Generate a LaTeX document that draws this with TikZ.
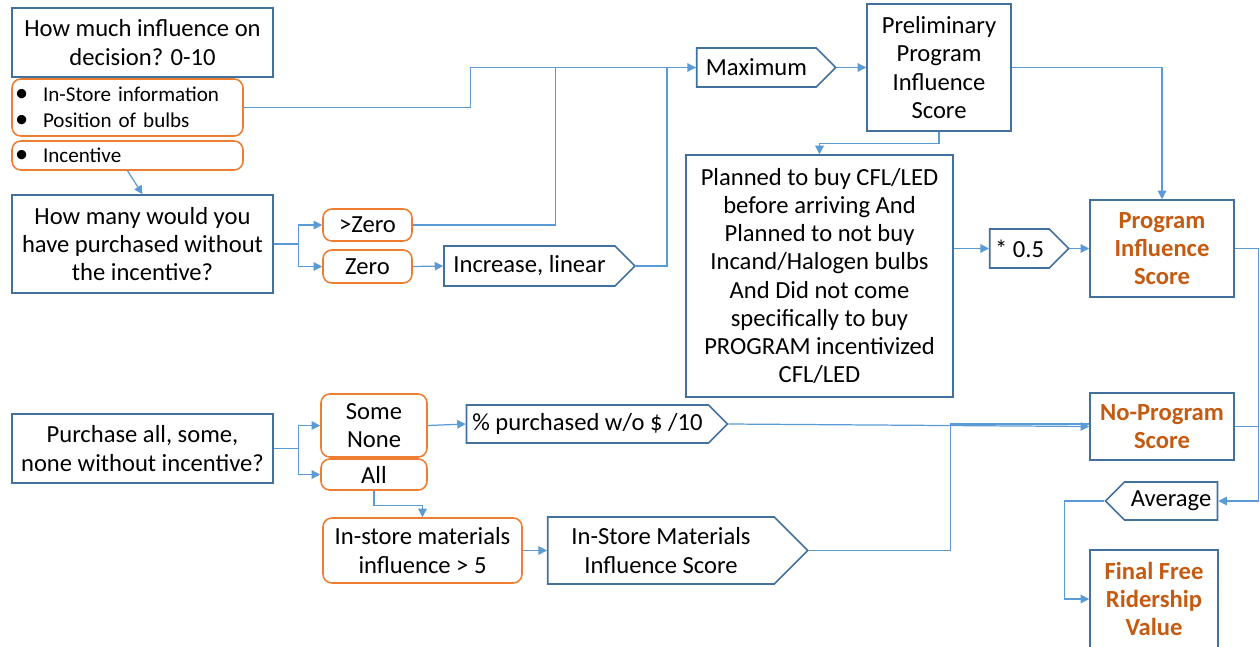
\documentclass[tikz,border=0pt]{standalone}
\usepackage{fontspec}
\setmainfont{Carlito}
\usepackage{xcolor}
\usetikzlibrary{shapes.symbols,arrows.meta}
\definecolor{boxblue}{HTML}{41719C}
\definecolor{lineblue}{HTML}{5B9BD5}
\definecolor{optorange}{HTML}{ED7D31}
\definecolor{scoreorange}{HTML}{C55A11}
\newcommand{\bulitem}{\makebox[0.56cm][l]{\fontsize{15}{14.5}\selectfont\textbullet}}
\tikzstyle{qbox} = [draw=boxblue, line width=0.9pt, fill=white,
    rectangle, align=center, inner sep=2pt, font=\fontsize{14}{16}\selectfont]
\tikzstyle{optbox} = [draw=optorange, line width=0.9pt, fill=white,
    rectangle, rounded corners=5pt, align=center, inner sep=2pt, font=\fontsize{14}{16}\selectfont]
\tikzstyle{listbox} = [optbox, align=left, text width=4.5cm, inner xsep=0.06cm,
    font=\fontsize{12}{14.5}\selectfont]
\tikzstyle{calcbox} = [draw=boxblue, line width=0.9pt, fill=white,
    signal, signal to=east, signal pointer angle=90, align=center, inner sep=2pt,
    font=\fontsize{14}{16}\selectfont]
\tikzstyle{scorebox} = [qbox, text=scoreorange, font=\fontsize{14}{16}\selectfont\bfseries]
\tikzstyle{flow} = [draw=lineblue, line width=0.7pt]
\tikzstyle{flowto} = [flow, -{Triangle[length=1.7mm,width=1.7mm]}]

\begin{document}
\begin{tikzpicture}[x=0.02cm, y=-0.02cm]
\useasboundingbox (0,0) rectangle (1260,646);

\node[qbox, minimum width=5.22cm, minimum height=1.38cm] (infl) at (142.5,42.5)
    {How much influence on\\decision? 0-10};
\node[listbox, minimum width=4.62cm, minimum height=1.14cm] (bul) at (127.5,107.5)
    {\bulitem In-Store information\\\bulitem Position of bulbs};
\node[listbox, minimum width=4.62cm, minimum height=0.58cm] (inc) at (127.5,155.5)
    {\bulitem Incentive};
\node[qbox, minimum width=5.22cm, minimum height=1.96cm] (howmany) at (142.5,244)
    {How many would you\\have purchased without\\the incentive?};
\node[optbox, minimum width=1.78cm, minimum height=0.64cm] (gtzero) at (367.5,225) {>Zero};
\node[optbox, minimum width=1.78cm, minimum height=0.66cm] (zero) at (367.5,266.5) {Zero};
\node[calcbox, minimum width=3.82cm, minimum height=0.8cm] (incr) at (529.5,266) {Increase, linear};
\node[calcbox, minimum width=2.78cm, minimum height=0.78cm] (max) at (756.5,67.5) {Maximum};
\node[qbox, minimum width=2.88cm, minimum height=2.54cm] (prelim) at (939,67.5)
    {Preliminary\\Program\\Influence\\Score};
\node[qbox, minimum width=5.34cm, minimum height=4.84cm] (planned) at (819.5,276)
    {Planned to buy CFL/LED\\before arriving And\\Planned to not buy\\Incand/Halogen bulbs\\And Did not come\\specifically to buy\\PROGRAM incentivized\\CFL/LED};
\node[calcbox, minimum width=1.58cm, minimum height=0.78cm] (half) at (1019.5,248.5) {* 0.5};
\node[scorebox, minimum width=2.88cm, minimum height=1.94cm] (pis) at (1162,248.5)
    {Program\\Influence\\Score};
\node[scorebox, minimum width=2.88cm, minimum height=1.34cm] (nps) at (1162,426.5)
    {No-Program\\Score};
\node[calcbox, signal to=west, minimum width=2.24cm, minimum height=0.76cm] (avg) at (1171,501) {Average};
\node[scorebox, minimum width=2.56cm, minimum height=1.96cm] (final) at (1154,599)
    {Final Free\\Ridership\\Value};
\node[qbox, minimum width=5.22cm, minimum height=1.38cm] (purchase) at (142.5,448.5)
    {Purchase all, some,\\none without incentive?};
\node[optbox, minimum width=2.12cm, minimum height=1.26cm] (somenone) at (374,425.5) {Some\\None};
\node[optbox, minimum width=2.12cm, minimum height=0.62cm] (all) at (374,474.5) {All};
\node[calcbox, minimum width=5.22cm, minimum height=0.76cm] (pct) at (587.5,424) {\% purchased w/o \$ /10};
\node[optbox, minimum width=3.98cm, minimum height=1.3cm] (ismin) at (422.5,550.5)
    {In-store materials\\influence > 5};
\node[calcbox, minimum width=5.2cm, minimum height=1.34cm] (isms) at (661,550.5)
    {In-Store Materials\\Influence Score};

\draw[flowto] (inc.south) -- (howmany.north);
\draw[flowto] (howmany.east) -- ++(25,0) |- (gtzero.west);
\draw[flowto] (howmany.east) -- ++(25,0) |- (zero.west);
\draw[flowto] (zero.east) -- (incr.west);
\draw[flowto] (bul.east) -- ++(227,0) |- (max.west);
\draw[flow] (gtzero.east) -- ++(143,0) |- (max.west);
\draw[flow] (incr.east) -- ++(31,0) |- (max.west);
\draw[flowto] (max.east) -- (prelim.west);
\draw[flowto] (prelim.east) -| (pis.north);
\draw[flowto] (prelim.south) -- ++(0,12) -| (planned.north);
\draw[flowto] (planned.east |- half.west) -- (half.west);
\draw[flowto] (half.east) -- (pis.west);
\draw[flowto] (pis.east) -- ++(24,0) |- (avg.east);
\draw[flow] (nps.east) -- ++(24,0);
\draw[flowto] (avg.west) -- ++(-40,0) |- (final.west);
\draw[flowto] (purchase.east) -- ++(25,0) |- (somenone.west);
\draw[flowto] (purchase.east) -- ++(25,0) |- (all.west);
\draw[flowto] (somenone.east) -- (pct.west);
\draw[flowto] (pct.east) -- (nps.west);
\draw[flow] (isms.east) -- ++(142,0) |- (pct.east -| nps.west);
\draw[flowto] (all.south) -- ++(0,15) -| (ismin.north);
\draw[flowto] (ismin.east) -- (isms.west);
\end{tikzpicture}
\end{document}
